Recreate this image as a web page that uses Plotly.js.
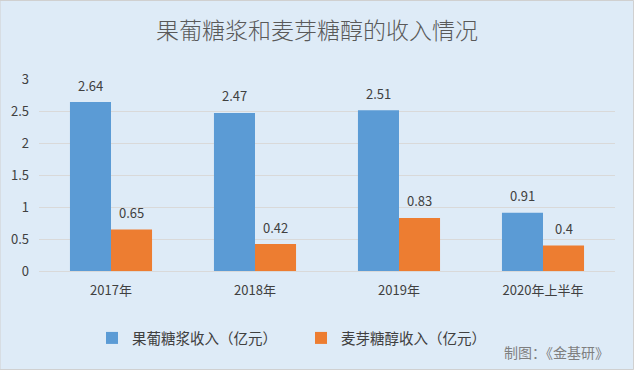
<!DOCTYPE html>
<html><head><meta charset="utf-8">
<script src="https://cdn.plot.ly/plotly-3.0.1.min.js"></script>
<style>html,body{margin:0;padding:0;}#chart{width:634px;height:370px;}</style>
</head><body><div id="chart"></div>
<script>
const categories = ["2017年", "2018年", "2019年", "2020年上半年"];
const syrupRevenue = [2.64, 2.47, 2.51, 0.91];
const maltitolRevenue = [0.65, 0.42, 0.83, 0.4];
const seriesNames = ["果葡糖浆收入（亿元）", "麦芽糖醇收入（亿元）"];
const yTicks = [0, 0.5, 1, 1.5, 2, 2.5, 3];

const font = '"Noto Sans CJK SC", "Noto Sans", sans-serif';
const traces = [
  {type: 'bar', name: seriesNames[0], x: categories, y: syrupRevenue, marker: {color: '#5B9BD5'}},
  {type: 'bar', name: seriesNames[1], x: categories, y: maltitolRevenue, marker: {color: '#ED7D31'}}
];

const labelAnnotations = [];
[syrupRevenue, maltitolRevenue].forEach((vals, si) => {
  vals.forEach((v, i) => {
    labelAnnotations.push({
      x: categories[i], y: v, xref: 'x', yref: 'y', text: String(v), showarrow: false,
      xshift: si === 0 ? -20.5 : 20.5, yshift: 17, yanchor: 'middle', xanchor: 'center',
      font: {size: 13, color: '#404040', family: font}
    });
  });
});

const layout = {
  width: 634, height: 370,
  margin: {l: 39, r: 19, t: 79, b: 99},
  paper_bgcolor: '#DEEBF7', plot_bgcolor: '#DEEBF7',
  font: {family: font, color: '#595959', size: 12},
  title: {text: '果葡糖浆和麦芽糖醇的收入情况', x: 0.5, xref: 'container', y: 1 - 31/370, yanchor: 'middle',
          font: {size: 23, color: '#595959', family: font, weight: 300}},
  barmode: 'group', bargap: 0.43, bargroupgap: 0,
  xaxis: {type: 'category', tickfont: {size: 13, color: '#404040'}, showline: true, linecolor: '#D9D9D9',
          ticks: '', showgrid: false, fixedrange: true, ticklabelstandoff: 7},
  yaxis: {range: [0, 3], tickvals: yTicks, ticktext: yTicks.map(String), showgrid: true, gridcolor: '#D9D9D9',
          zeroline: false, showline: false, ticks: '', tickfont: {size: 13, color: '#404040'}, fixedrange: true,
          ticklabelstandoff: 9},
  showlegend: true,
  legend: {orientation: 'h', x: (92-39)/576, xanchor: 'left', yref: 'container', y: 1 - 338/370, yanchor: 'middle',
           font: {size: 14.5, color: '#404040'}, bgcolor: 'rgba(0,0,0,0)', traceorder: 'normal',
           entrywidth: 164, entrywidthmode: 'pixels'},
  annotations: labelAnnotations.concat([{text: '制图：《金基研》', xref: 'paper', yref: 'paper', x: (611-39)/576, xanchor: 'right',
                 y: -(352-271)/192, yanchor: 'middle', showarrow: false, font: {size: 14, color: '#7F7F7F'}}]),
  shapes: [{type: 'rect', xref: 'paper', yref: 'paper', x0: -39/576, x1: (633.5-39)/576, y0: -(369.5-271)/192, y1: (271-0.5)/192,
            line: {color: '#D0D0D0', width: 1}, fillcolor: 'rgba(0,0,0,0)', layer: 'below'}]
};
Plotly.newPlot('chart', traces, layout, {displayModeBar: false, staticPlot: true});
</script></body></html>
